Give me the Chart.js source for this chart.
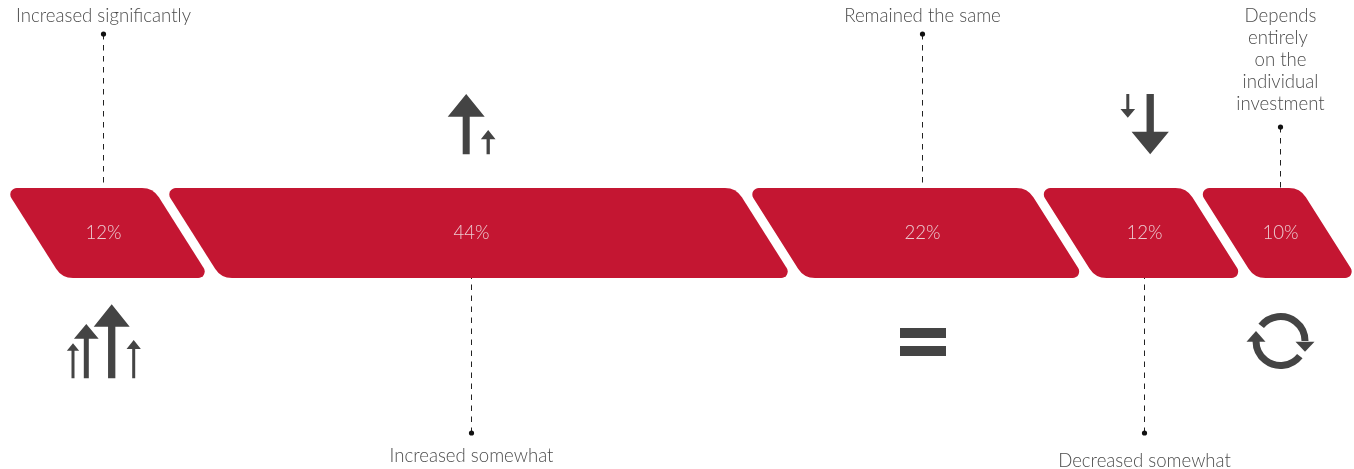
<!DOCTYPE html>
<html>
<head>
<meta charset="utf-8">
<style>
  html, body { margin: 0; padding: 0; background: #fff; }
  #wrap { width: 1354px; height: 469px; position: relative; }
</style>
<script src="https://cdn.jsdelivr.net/npm/chart.js@4"></script>
</head>
<body>
<div id="wrap"><canvas id="myChart"></canvas></div>
<script>
var categories = ["Increased significantly", "Increased somewhat", "Remained the same", "Decreased somewhat", "Depends entirely on the individual investment"];
var shares = [12, 44, 22, 12, 10];
var shareLabels = ["12%", "44%", "22%", "12%", "10%"];

var BAND_RED = '#c41632';
var TEXT_GREY = '#4c4c4c';
var ICON_GREY = '#444444';
var SLANT = 57;   // horizontal run of each band's sloped sides
var GAP = 11;     // white gap between neighbouring bands
var FONT = '300 18.6px Lato, sans-serif';

// hand placed notes: offset from band centre, which side the leader goes, where it stops
var notes = [
  { nudge: -5, from: 'top',    dotY: 34,  lines: [categories[0]], textY: 16 },
  { nudge: -8, from: 'bottom', dotY: 433, lines: [categories[1]], textY: 456 },
  { nudge: 6,  from: 'top',    dotY: 34,  lines: [categories[2]], textY: 16 },
  { nudge: 3,  from: 'bottom', dotY: 433, lines: [categories[3]], textY: 461 },
  { nudge: 3,  from: 'top',    dotY: 127, lines: ['Depends', 'entirely ', 'on the', 'individual', 'investment'], textY: 16 }
];

// sloped band with small radius on the sharp corners and big radius on the blunt ones
function drawBand(ctx, g, color) {
  var tl = [g.left, g.top], tr = [g.right, g.top];
  var br = [g.right + SLANT, g.bottom], bl = [g.left + SLANT, g.bottom];
  var sharp = 6.5, blunt = 20;
  ctx.beginPath();
  ctx.moveTo((tl[0] + tr[0]) / 2, g.top);
  ctx.arcTo(tr[0], tr[1], br[0], br[1], blunt);
  ctx.arcTo(br[0], br[1], bl[0], bl[1], sharp);
  ctx.arcTo(bl[0], bl[1], tl[0], tl[1], blunt);
  ctx.arcTo(tl[0], tl[1], tr[0], tr[1], sharp);
  ctx.closePath();
  ctx.fillStyle = color;
  ctx.fill();
}

function bandGeometry(chart, i) {
  var bar = chart.getDatasetMeta(i).data[0];
  var left = Math.min(bar.base, bar.x);
  var right = Math.max(bar.base, bar.x) - GAP;
  // the last band is cut short so its tip stays on the page
  right = Math.min(right, chart.width + 3 - SLANT);
  return { left: left, right: right, top: bar.y - bar.height / 2, bottom: bar.y + bar.height / 2 };
}

function arrow(ctx, x, shaftEnd, headBase, tip, headW, shaftW) {
  ctx.beginPath();
  ctx.moveTo(x - shaftW / 2, shaftEnd);
  ctx.lineTo(x - shaftW / 2, headBase);
  ctx.lineTo(x - headW / 2, headBase);
  ctx.lineTo(x, tip);
  ctx.lineTo(x + headW / 2, headBase);
  ctx.lineTo(x + shaftW / 2, headBase);
  ctx.lineTo(x + shaftW / 2, shaftEnd);
  ctx.closePath();
  ctx.fill();
}

function drawIcons(ctx, cx) {
  ctx.fillStyle = ICON_GREY;
  ctx.strokeStyle = ICON_GREY;

  // four arrows up
  arrow(ctx, cx[0] + 8.2, 378.3, 326.7, 304.3, 36, 7.3);
  arrow(ctx, cx[0] - 17.2, 378.3, 338.7, 324, 24.7, 5);
  arrow(ctx, cx[0] - 30.5, 378.3, 350.7, 343.3, 12.3, 3);
  arrow(ctx, cx[0] + 30.2, 378.3, 349, 340, 14.3, 3);

  // two arrows up
  arrow(ctx, cx[1] - 5.3, 154.3, 116.7, 94, 37, 7);
  arrow(ctx, cx[1] + 16.7, 154.3, 139.3, 130, 14.7, 3.3);

  // equals sign
  ctx.fillRect(cx[2] - 22.5, 328, 46, 10);
  ctx.fillRect(cx[2] - 22.5, 346, 46, 10);

  // two arrows down
  arrow(ctx, cx[3] + 5.7, 94, 131.7, 154.3, 37.3, 7.3);
  arrow(ctx, cx[3] - 16.7, 94, 109, 117.7, 14.7, 3);

  // circular arrows
  var rx = cx[4], ry = 341, r = 24.5;
  ctx.lineWidth = 7;
  ctx.beginPath();
  ctx.arc(rx, ry, r, Math.PI * 218 / 180, 0);
  ctx.stroke();
  ctx.beginPath();
  ctx.arc(rx, ry, r, Math.PI * 38 / 180, Math.PI);
  ctx.stroke();
  arrow(ctx, rx + r, 341.7, 341.7, 351.7, 19, 0);
  arrow(ctx, rx - r, 341.7, 341.7, 331, 19, 0);
}

var slantedBands = {
  id: 'slantedBands',
  beforeDatasetDraw: function (chart, args) {
    var g = bandGeometry(chart, args.index);
    drawBand(chart.ctx, g, chart.data.datasets[args.index].backgroundColor);
    return false;
  },
  afterDatasetsDraw: function (chart) {
    var ctx = chart.ctx;
    var centres = [];
    ctx.save();
    ctx.textAlign = 'center';
    ctx.textBaseline = 'middle';
    ctx.font = FONT;

    notes.forEach(function (note, i) {
      var g = bandGeometry(chart, i);
      var x = Math.round((g.left + g.right + SLANT) / 2 + note.nudge) + 0.5;
      var edge = note.from === 'top' ? g.top : g.bottom;
      centres.push(x);

      ctx.fillStyle = '#eccbd1';
      ctx.fillText(shareLabels[i], x, (g.top + g.bottom) / 2);

      // dashed leader with a dot on its end
      ctx.strokeStyle = '#222222';
      ctx.lineWidth = 1;
      ctx.setLineDash([5.5, 5.5]);
      ctx.beginPath();
      ctx.moveTo(x, note.dotY);
      ctx.lineTo(x, edge);
      ctx.stroke();
      ctx.setLineDash([]);
      ctx.fillStyle = '#111111';
      ctx.beginPath();
      ctx.arc(x, note.dotY, 2.6, 0, Math.PI * 2);
      ctx.fill();

      ctx.fillStyle = TEXT_GREY;
      note.lines.forEach(function (line, n) {
        ctx.fillText(line, x, note.textY + n * 22);
      });
    });

    drawIcons(ctx, centres);
    ctx.restore();
  }
};

var ctx = document.getElementById('myChart').getContext('2d');
var myChart = new Chart(ctx, {
  type: 'bar',
  data: {
    labels: ['Share'],
    datasets: shares.map(function (v, i) {
      return { label: categories[i], data: [v], backgroundColor: BAND_RED, stack: 's', barPercentage: 1, categoryPercentage: 1 };
    })
  },
  options: {
    indexAxis: 'y',
    responsive: true,
    maintainAspectRatio: false,
    animation: false,
    layout: { padding: { left: 5, right: 24, top: 188, bottom: 191 } },
    plugins: { legend: { display: false }, tooltip: { enabled: false } },
    scales: {
      x: { display: false, stacked: true, min: 0, max: 100 },
      y: { display: false, stacked: true }
    }
  },
  plugins: [slantedBands]
});
</script>
</body>
</html>
